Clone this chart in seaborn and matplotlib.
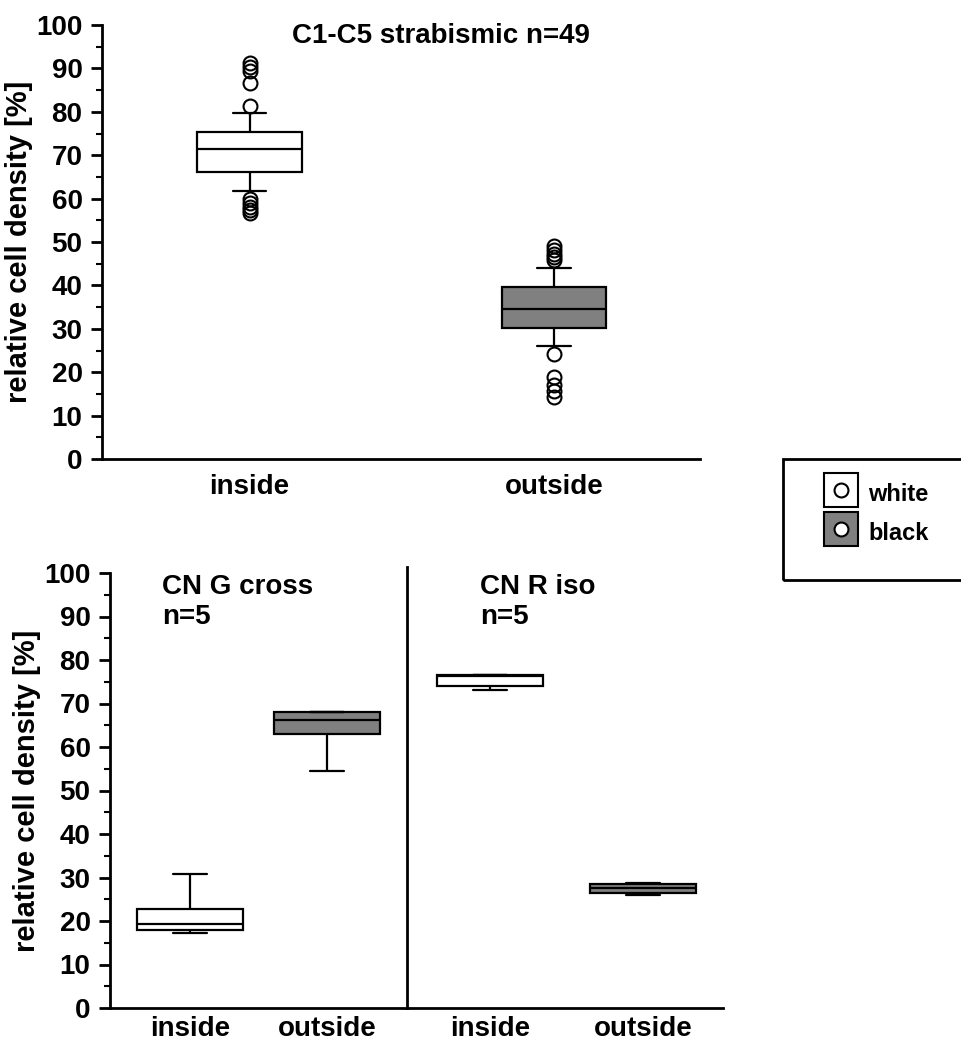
import numpy as np
import pandas as pd
import matplotlib
matplotlib.use("Agg")
import matplotlib.pyplot as plt
import seaborn as sns
from matplotlib.lines import Line2D
from matplotlib.patches import Rectangle
from matplotlib.ticker import MultipleLocator

positions = ["inside", "outside"]
group_colors = {"inside": "white", "outside": "#808080"}

# C1-C5 strabismic, n=49 (sorted values matching the box, whiskers and outliers)
strab_inside = [56.7, 57.3, 58.1, 59.0, 59.9,
                61.8,
                62.5, 63.3, 64.0, 64.6, 65.2, 65.7,
                66.1,
                66.6, 67.1, 67.6, 68.0, 68.5, 69.0, 69.4, 69.9, 70.3, 70.7, 71.1,
                71.4,
                71.7, 72.0, 72.3, 72.6, 72.9, 73.2, 73.5, 73.8, 74.2, 74.6, 75.0,
                75.3,
                75.9, 76.5, 77.1, 77.8, 78.4, 79.1,
                79.7,
                81.3, 86.6, 89.3, 90.3, 91.2]
strab_outside = [14.3, 15.6, 17.0, 18.9, 24.2,
                 26.0,
                 26.8, 27.5, 28.1, 28.7, 29.3, 29.8,
                 30.2,
                 30.6, 31.0, 31.4, 31.8, 32.2, 32.6, 33.0, 33.4, 33.8, 34.1, 34.4,
                 34.6,
                 35.0, 35.4, 35.8, 36.2, 36.6, 37.0, 37.5, 38.0, 38.5, 38.9, 39.3,
                 39.6,
                 40.2, 40.8, 41.5, 42.1, 42.8, 43.4,
                 44.0,
                 45.8, 46.5, 47.3, 48.2, 49.0]

# CN G cross, n=5
cng_inside = [17.2, 17.9, 19.3, 22.8, 30.8]
cng_outside = [54.5, 63.0, 66.2, 68.0, 68.0]

# CN R iso, n=5
cnr_inside = [73.1, 74.0, 76.3, 76.6, 76.6]
cnr_outside = [26.0, 26.5, 27.5, 28.4, 28.8]

sns.set_style("ticks")
plt.rcParams["font.family"] = ["Liberation Sans", "DejaVu Sans"]
plt.rcParams["font.weight"] = "bold"
plt.rcParams["axes.labelweight"] = "bold"
for key in ["text.color", "axes.labelcolor", "xtick.color", "ytick.color",
            "axes.edgecolor"]:
    plt.rcParams[key] = "black"

W, H = 962, 1045


def draw_boxes(ax, inside, outside, width, whis):
    df = pd.DataFrame({
        "position": ["inside"] * len(inside) + ["outside"] * len(outside),
        "density": inside + outside,
    })
    sns.boxplot(data=df, x="position", y="density", hue="position",
                order=positions, hue_order=positions, palette=group_colors,
                legend=False, width=width, whis=whis, saturation=1,
                linecolor="black", linewidth=1.6,
                flierprops=dict(marker="o", markerfacecolor="none",
                                markeredgecolor="black", markersize=10,
                                markeredgewidth=1.5),
                ax=ax)
    # shorter caps like the original
    for ln in ax.lines:
        x = np.asarray(ln.get_xdata(), float)
        y = np.asarray(ln.get_ydata(), float)
        if len(x) == 2 and y[0] == y[1] and abs(x[1] - x[0]) < 0.75 * width:
            c = x.mean()
            ln.set_xdata([c - 0.16 * width, c + 0.16 * width])


def style_axes(ax, show_y=True, xpad=8):
    sns.despine(ax=ax)
    for s in ["left", "bottom"]:
        ax.spines[s].set_linewidth(2)
    ax.set_xlabel("")
    ax.tick_params(axis="x", length=0, labelsize=20, pad=xpad)
    if show_y:
        ax.set_ylim(0, 100)
        ax.yaxis.set_major_locator(MultipleLocator(10))
        ax.yaxis.set_minor_locator(MultipleLocator(5))
        ax.tick_params(axis="y", which="major", length=8, width=2,
                       labelsize=20, pad=6)
        ax.tick_params(axis="y", which="minor", length=4, width=1.5)
        ax.set_ylabel("relative cell density [%]", fontsize=21, labelpad=2)
    else:
        ax.tick_params(axis="y", which="both", left=False, labelleft=False)
        ax.set_ylabel("")


fig = plt.figure(figsize=(W / 100, H / 100), dpi=100)

# top panel
ax_top = fig.add_axes([102 / W, 1 - 459 / H, 598 / W, 434 / H])
draw_boxes(ax_top, strab_inside, strab_outside, 0.344, (10, 90))
style_axes(ax_top, xpad=11)
ax_top.set_xlim(-0.485, 1.48)
ax_top.text(0.138, 95.9, "C1-C5 strabismic n=49", fontsize=20,
            ha="left", va="baseline")

# bottom left panel
ax_bl = fig.add_axes([110 / W, 1 - 1008 / H, 297 / W, 435 / H])
draw_boxes(ax_bl, cng_inside, cng_outside, 0.774, (0, 100))
style_axes(ax_bl, xpad=6)
ax_bl.set_xlim(-0.584, 1.584)
ax_bl.text(-0.204, 99.8, "CN G cross\nn=5", fontsize=20, ha="left", va="top")

# bottom right panel
ax_br = fig.add_axes([407 / W, 1 - 1008 / H, 316 / W, 441 / H])
draw_boxes(ax_br, cnr_inside, cnr_outside, 0.69, (0, 100))
style_axes(ax_br, show_y=False, xpad=6)
ax_br.set_ylim(0, 100 * 441 / 435)
ax_br.set_xlim(-0.542, 1.523)
ax_br.text(-0.065, 99.8, "CN R iso\nn=5", fontsize=20, ha="left", va="top")

# legend
white_handle = (Line2D([], [], ls="", marker="s", markersize=25, mfc="white",
                       mec="black", mew=1.5),
                Line2D([], [], ls="", marker="o", markersize=10, mfc="white",
                       mec="black", mew=1.5))
black_handle = (Line2D([], [], ls="", marker="s", markersize=25,
                       mfc=group_colors["outside"], mec="black", mew=1.5),
                Line2D([], [], ls="", marker="o", markersize=10, mfc="white",
                       mec="black", mew=1.5))
fig.legend([white_handle, black_handle], ["white", "black"],
           loc="upper left", bbox_to_anchor=(822 / W, 1 - 479 / H),
           frameon=False, fontsize=17, handlelength=1.6, handleheight=1.5,
           handletextpad=0.35, labelspacing=0.42, borderpad=0,
           borderaxespad=0)
fig.add_artist(Rectangle((783 / W, 1 - 580 / H), 200 / W, 121 / H,
                         transform=fig.transFigure, fill=False, lw=2,
                         ec="black"))

fig.savefig("out.png", dpi=100)
